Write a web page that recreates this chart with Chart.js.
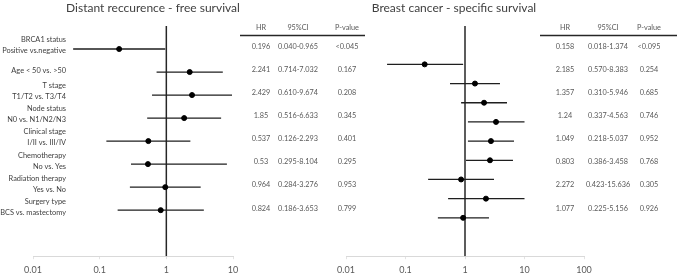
<!DOCTYPE html>
<html>
<head>
<meta charset="utf-8">
<script src="https://cdn.jsdelivr.net/npm/chart.js@4.4.0/dist/chart.umd.min.js"></script>
<style>
  html, body { margin: 0; padding: 0; background: #fff; }
  #wrap { position: relative; width: 677px; height: 280px; }
  #leftWrap { position: absolute; left: 0; top: 0; width: 677px; height: 280px; }
  #rightWrap { position: absolute; left: 300px; top: 0; width: 377px; height: 280px; }
  .title { position: absolute; top: 0; font: 12px Lato, "Open Sans", sans-serif; color: #404040; white-space: nowrap; transform: translateX(-50%); }
</style>
</head>
<body>
<div id="wrap">
  <div id="leftWrap"><canvas id="dfsChart"></canvas></div>
  <div id="rightWrap"><canvas id="bcssChart"></canvas></div>
  <div class="title" id="dfsTitle" style="left:153px"></div>
  <div class="title" id="bcssTitle" style="left:454px"></div>
</div>
<script>
// Distant recurrence - free survival (left)
const dfsTitle = 'Distant reccurence - free survival';
const rowHeads = ['BRCA1 status', '', 'T stage', 'Node status', 'Clinical stage', 'Chemotherapy', 'Radiation therapy', 'Surgery type'];
const rowComps = ['Positive vs.negative', 'Age < 50 vs. >50', 'T1/T2 vs. T3/T4', 'N0 vs. N1/N2/N3', 'I/II vs. III/IV', 'No vs. Yes', 'Yes vs. No', 'BCS vs. mastectomy'];
const dfsHR = [0.196, 2.241, 2.429, 1.85, 0.537, 0.53, 0.964, 0.824];
const dfsLow = [0.040, 0.714, 0.610, 0.516, 0.126, 0.295, 0.284, 0.186];
const dfsHigh = [0.965, 7.032, 9.674, 6.633, 2.293, 8.104, 3.276, 3.653];
const dfsHRText = ['0.196', '2.241', '2.429', '1.85', '0.537', '0.53', '0.964', '0.824'];
const dfsCI = ['0.040-0.965', '0.714-7.032', '0.610-9.674', '0.516-6.633', '0.126-2.293', '0.295-8.104', '0.284-3.276', '0.186-3.653'];
const dfsP = ['<0.045', '0.167', '0.208', '0.345', '0.401', '0.295', '0.953', '0.799'];

// Breast cancer - specific survival (right) table
const bcssTitle = 'Breast cancer - specific survival';
const bcssHRText = ['0.158', '2.185', '1.357', '1.24', '1.049', '0.803', '2.272', '1.077'];
const bcssCI = ['0.018-1.374', '0.570-8.383', '0.310-5.946', '0.337-4.563', '0.218-5.037', '0.386-3.458', '0.423-15.636', '0.225-5.156'];
const bcssP = ['<0.095', '0.254', '0.685', '0.746', '0.952', '0.768', '0.305', '0.926'];

// right plot marks (as drawn, 9 rows)
const bcssPt = [0.21, 1.47, 2.09, 3.32, 2.73, 2.63, 0.86, 2.25, 0.93];
const bcssLow = [0.049, 0.56, 0.86, 1.12, 1.12, 1.04, 0.24, 0.52, 0.35];
const bcssHigh = [0.93, 3.87, 5.08, 10, 6.66, 6.4, 3.07, 10, 2.53];

const dfsTicks = [0.01, 0.1, 1, 10];
const bcssTicks = [0.01, 0.1, 1, 10, 100];
const tableHead = ['HR', '95%CI', 'P-value'];

const FONT = 'Lato, "Open Sans", sans-serif';

function ciData(lo, hi, y0) {
  return lo.flatMap((l, i) => [{ x: l, y: i + y0 }, { x: hi[i], y: i + y0 }, { x: hi[i], y: null }]);
}

function makeOptions(ticks, yMax, padding) {
  return {
    responsive: false,
    animation: false,
    layout: { padding },
    plugins: { legend: { display: false }, tooltip: { enabled: false }, title: { display: false } },
    scales: {
      x: {
        type: 'logarithmic',
        min: ticks[0],
        max: ticks[ticks.length - 1],
        afterBuildTicks: s => { s.ticks = ticks.map(v => ({ value: v })); },
        border: { display: true, color: '#d9d9d9', width: 1 },
        grid: { display: true, drawOnChartArea: false, color: '#e3e3e3', tickLength: 3 },
        ticks: { color: '#595959', font: { family: FONT, size: 9 }, padding: 5, maxRotation: 0, callback: v => String(v) },
      },
      y: { type: 'linear', min: 0, max: yMax, reverse: true, display: false },
    },
  };
}

function forestDatasets(ptData, lo, hi, y0, yMax) {
  return [
    { type: 'line', data: [{ x: 1, y: 0 }, { x: 1, y: yMax }], borderColor: '#262626', borderWidth: 1.5, pointRadius: 0, order: 3 },
    { type: 'line', data: ciData(lo, hi, y0), borderColor: '#1f1f1f', borderWidth: 1.3, pointRadius: 0, spanGaps: false, order: 2 },
    { type: 'scatter', data: ptData.map((v, i) => ({ x: v, y: i + y0 })), backgroundColor: '#000', borderColor: '#000', pointRadius: 2.5, order: 1 },
  ];
}

function centredText(ctx, text, cx, cy) {
  const w = ctx.measureText(text).width;
  ctx.textAlign = 'left';
  ctx.fillText(text, cx - w / 2, cy);
}

// row labels and both tables, placed on the left chart's y scale
const leftText = {
  id: 'leftText',
  afterDraw(chart) {
    const ctx = chart.ctx;
    const y = chart.scales.y;
    ctx.save();
    ctx.textBaseline = 'middle';
    ctx.fillStyle = '#404040';
    ctx.font = `7.4px ${FONT}`;
    ctx.textAlign = 'right';
    rowComps.forEach((c, i) => {
      const py = y.getPixelForValue(i + 1);
      if (rowHeads[i]) {
        ctx.fillText(rowHeads[i], 66, py - 9);
        ctx.fillText(c, 66, py + 2);
      } else {
        ctx.fillText(c, 66, py - 1);
      }
    });

    const tables = [
      { cols: [261, 298, 347], line: [240, 365], hr: dfsHRText, ci: dfsCI, p: dfsP },
      { cols: [565, 608, 649], line: [540, 677], hr: bcssHRText, ci: bcssCI, p: bcssP },
    ];
    tables.forEach(t => {
      ctx.fillStyle = '#595959';
      ctx.font = `7.3px ${FONT}`;
      tableHead.forEach((h, k) => centredText(ctx, h, t.cols[k], 28));
      ctx.strokeStyle = '#262626';
      ctx.lineWidth = 1.5;
      ctx.beginPath();
      ctx.moveTo(t.line[0], 35.5);
      ctx.lineTo(t.line[1], 35.5);
      ctx.stroke();
      t.hr.forEach((v, i) => {
        const py = y.getPixelForValue(i + 1) - 2;
        centredText(ctx, v, t.cols[0], py);
        centredText(ctx, t.ci[i], t.cols[1], py);
        centredText(ctx, t.p[i], t.cols[2], py);
      });
    });
    ctx.restore();
  },
};

document.getElementById('dfsTitle').textContent = dfsTitle;
document.getElementById('bcssTitle').textContent = bcssTitle;

const leftCanvas = document.getElementById('dfsChart');
leftCanvas.width = 677; leftCanvas.height = 280;
new Chart(leftCanvas, {
  type: 'scatter',
  data: { datasets: forestDatasets(dfsHR, dfsLow, dfsHigh, 1, 10) },
  options: makeOptions(dfsTicks, 10, { left: 33, right: 444, top: 26, bottom: 0 }),
  plugins: [leftText],
});

const rightCanvas = document.getElementById('bcssChart');
rightCanvas.width = 377; rightCanvas.height = 280;
new Chart(rightCanvas, {
  type: 'scatter',
  data: { datasets: forestDatasets(bcssPt, bcssLow, bcssHigh, 2, 12) },
  options: makeOptions(bcssTicks, 12, { left: 46, right: 93, top: 26, bottom: 0 }),
});
</script>
</body>
</html>
